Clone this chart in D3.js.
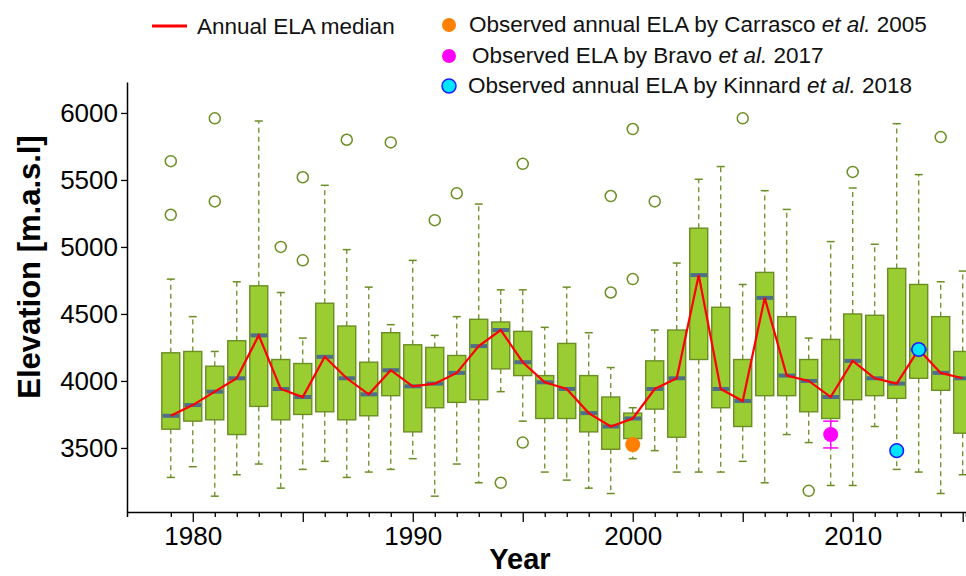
<!DOCTYPE html>
<html>
<head>
<meta charset="utf-8">
<script src="https://cdn.jsdelivr.net/npm/d3@7"></script>
<style>
  html, body { margin: 0; padding: 0; background: #fff; overflow: hidden; }
  svg { display: block; font-family: "Liberation Sans", Arial, Helvetica, sans-serif; }
</style>
</head>
<body>
<svg id="chart" width="966" height="576"></svg>
<script>
// Simulated annual ELA distribution per year (box plot statistics, m a.s.l.)
const years = [1979, 1980, 1981, 1982, 1983, 1984, 1985, 1986, 1987, 1988, 1989, 1990,
  1991, 1992, 1993, 1994, 1995, 1996, 1997, 1998, 1999, 2000, 2001, 2002, 2003, 2004,
  2005, 2006, 2007, 2008, 2009, 2010, 2011, 2012, 2013, 2014, 2015];
const whiskerLow = [3280, 3360, 3140, 3300, 3380, 3200, 3340, 3400, 3280, 3320, 3340, 3420,
  3140, 3380, 3240, 3920, 3700, 3320, 3260, 3200, 3160, 3420, 3480, 3320, 3320, 3320,
  3400, 3240, 3600, 3540, 3220, 3220, 3660, 3340, 3320, 3160, 3300];
const q1 = [3640, 3700, 3710, 3600, 3810, 3710, 3750, 3770, 3710, 3740, 3890, 3620,
  3800, 3840, 3860, 4090, 4040, 3720, 3720, 3620, 3490, 3570, 3790, 3580, 4160, 3800,
  3660, 3890, 3890, 3770, 3720, 3860, 3890, 3870, 4020, 3930, 3610];
const median = [3740, 3820, 3920, 4020, 4340, 3940, 3880, 4180, 4020, 3900, 4080, 3960,
  3980, 4060, 4260, 4380, 4140, 3990, 3940, 3760, 3660, 3720, 3940, 4020, 4790, 3940,
  3850, 4620, 4040, 4000, 3880, 4150, 4020, 3980, 4235, 4060, 4020];
const q3 = [4210, 4220, 4110, 4300, 4710, 4160, 4130, 4580, 4410, 4140, 4360, 4270,
  4250, 4190, 4460, 4440, 4370, 4040, 4280, 4040, 3880, 3760, 4150, 4380, 5140, 4550,
  4160, 4810, 4480, 4160, 4310, 4500, 4490, 4840, 4720, 4480, 4220];
const whiskerHigh = [4760, 4480, 4220, 4740, 5940, 4660, 4320, 5460, 4980, 4700, 4420, 4900,
  4340, 4480, 5320, 4680, 4680, 4400, 4700, 4360, 4100, 3800, 4380, 4880, 5505, 5600,
  4720, 5420, 5280, 4320, 5040, 5440, 5020, 5920, 5540, 4740, 4820];
// Outliers as [year, elevation]
const outliers = [
  [1979, 5640], [1979, 5240], [1981, 5960], [1981, 5340], [1984, 5000],
  [1985, 5520], [1985, 4900], [1987, 5800], [1989, 5780], [1991, 5200],
  [1992, 5400], [1994, 3240], [1995, 5620], [1995, 3540], [1999, 5380],
  [1999, 4660], [2000, 5880], [2000, 4760], [2001, 5340], [2005, 5960],
  [2008, 3180], [2010, 5560], [2014, 5820]
];
// Observations
const carrasco = [[2000, 3525]];
const bravo = [[2009, 3600, 100]];          // year, ELA, uncertainty
const kinnard = [[2012, 3480], [2013, 4235]];

const yTicks = [3500, 4000, 4500, 5000, 5500, 6000];
const xLabelYears = [1980, 1990, 2000, 2010];

const svg = d3.select("#chart");

const x = d3.scaleLinear().domain([1977.01, 2015.15]).range([127, 966]);
const y = d3.scaleLinear().domain([3022, 6231]).range([512, 82]);

const boxFill = "#9acd32", boxStroke = "#6b8e23", medianCol = "#4e6f8a";
const boxHalf = 9, capHalf = 4;

const data = years.map((yr, i) => ({
  year: yr, lo: whiskerLow[i], q1: q1[i], med: median[i], q3: q3[i], hi: whiskerHigh[i]
}));

const g = svg.append("g");

// whiskers (dashed) and caps
const wh = g.append("g");
data.forEach(d => {
  wh.append("line").attr("x1", x(d.year)).attr("x2", x(d.year))
    .attr("y1", y(d.q3)).attr("y2", y(d.hi))
    .attr("stroke", boxStroke).attr("stroke-width", 1.3).attr("stroke-dasharray", "5,4");
  wh.append("line").attr("x1", x(d.year)).attr("x2", x(d.year))
    .attr("y1", y(d.q1)).attr("y2", y(d.lo))
    .attr("stroke", boxStroke).attr("stroke-width", 1.3).attr("stroke-dasharray", "5,4");
  [d.hi, d.lo].forEach(v => {
    wh.append("line").attr("x1", x(d.year) - capHalf).attr("x2", x(d.year) + capHalf)
      .attr("y1", y(v)).attr("y2", y(v))
      .attr("stroke", boxStroke).attr("stroke-width", 1.5);
  });
});

// boxes
g.append("g").selectAll("rect").data(data).join("rect")
  .attr("x", d => x(d.year) - boxHalf)
  .attr("width", boxHalf * 2)
  .attr("y", d => y(d.q3))
  .attr("height", d => y(d.q1) - y(d.q3))
  .attr("fill", boxFill)
  .attr("stroke", boxStroke)
  .attr("stroke-width", 1.4);

// median bars
g.append("g").selectAll("rect").data(data).join("rect")
  .attr("x", d => x(d.year) - boxHalf + 0.7)
  .attr("width", boxHalf * 2 - 1.4)
  .attr("y", d => y(d.med) - 2)
  .attr("height", 4)
  .attr("fill", medianCol);

// outliers
g.append("g").selectAll("circle").data(outliers).join("circle")
  .attr("cx", d => x(d[0])).attr("cy", d => y(d[1])).attr("r", 5.5)
  .attr("fill", "none").attr("stroke", boxStroke).attr("stroke-width", 1.5);

// median line
g.append("path").datum(data)
  .attr("d", d3.line().x(d => x(d.year)).y(d => y(d.med)))
  .attr("fill", "none").attr("stroke", "#ff0000").attr("stroke-width", 2.2);

// observations
g.append("g").selectAll("circle").data(carrasco).join("circle")
  .attr("cx", d => x(d[0])).attr("cy", d => y(d[1])).attr("r", 7.5)
  .attr("fill", "#ff7f00");

const bg = g.append("g");
bravo.forEach(d => {
  const cx = x(d[0]);
  bg.append("line").attr("x1", cx).attr("x2", cx)
    .attr("y1", y(d[1] + d[2])).attr("y2", y(d[1] - d[2]))
    .attr("stroke", "#ff00ff").attr("stroke-width", 1.5);
  [d[1] + d[2], d[1] - d[2]].forEach(v => {
    bg.append("line").attr("x1", cx - 7.5).attr("x2", cx + 7.5)
      .attr("y1", y(v)).attr("y2", y(v))
      .attr("stroke", "#ff00ff").attr("stroke-width", 1.5);
  });
  bg.append("circle").attr("cx", cx).attr("cy", y(d[1])).attr("r", 7.5).attr("fill", "#ff00ff");
});

g.append("g").selectAll("circle").data(kinnard).join("circle")
  .attr("cx", d => x(d[0])).attr("cy", d => y(d[1])).attr("r", 6.8)
  .attr("fill", "#00e5ff").attr("stroke", "#1a1aff").attr("stroke-width", 1.5);

// axes
const yAxis = svg.append("g").attr("transform", "translate(127,0)")
  .call(d3.axisLeft(y).tickValues(yTicks).tickFormat(d3.format("d"))
    .tickSize(6).tickSizeOuter(0).tickPadding(3));
yAxis.select(".domain").attr("stroke", "#000").attr("stroke-width", 1.5);
yAxis.selectAll(".tick line").attr("stroke", "#000").attr("stroke-width", 1.3);
yAxis.selectAll("text").attr("font-size", 26).attr("fill", "#000")
  .attr("font-family", "Liberation Sans, Arial, sans-serif");

const xAxis = svg.append("g").attr("transform", "translate(0,512)")
  .call(d3.axisBottom(x).tickValues(years).tickSizeOuter(0).tickSize(5)
    .tickFormat(v => xLabelYears.includes(v) ? String(v) : ""));
xAxis.select(".domain").attr("stroke", "#000").attr("stroke-width", 1.5);
xAxis.selectAll(".tick line").attr("stroke", "#000").attr("stroke-width", 1.3)
  .attr("y2", v => v % 5 === 0 ? 10 : 5);
xAxis.selectAll("text").attr("font-size", 26).attr("fill", "#000").attr("y", 15)
  .attr("font-family", "Liberation Sans, Arial, sans-serif");

// axis titles
svg.append("text").attr("transform", "translate(40,267) rotate(-90)")
  .attr("text-anchor", "middle").attr("font-size", 31).attr("font-weight", "bold")
  .text("Elevation [m.a.s.l]");
svg.append("text").attr("x", 520).attr("y", 569)
  .attr("text-anchor", "middle").attr("font-size", 29).attr("font-weight", "bold")
  .text("Year");

// legend
const leg = svg.append("g").attr("font-size", 22.5).attr("fill", "#111");
leg.append("line").attr("x1", 152).attr("x2", 187).attr("y1", 26).attr("y2", 26)
  .attr("stroke", "#ff0000").attr("stroke-width", 3);
leg.append("text").attr("x", 197).attr("y", 34).text("Annual ELA median");

const legItems = [
  { cy: 25, fill: "#ff7f00", stroke: "none", tx: 469, ty: 32, pre: "Observed annual ELA by Carrasco ", post: " 2005" },
  { cy: 56, fill: "#ff00ff", stroke: "none", tx: 472, ty: 63, pre: "Observed ELA by Bravo ", post: " 2017" },
  { cy: 86, fill: "#00e5ff", stroke: "#1a1aff", tx: 468, ty: 93, pre: "Observed annual ELA by Kinnard ", post: " 2018" }
];
legItems.forEach(it => {
  leg.append("circle").attr("cx", 449).attr("cy", it.cy).attr("r", 7)
    .attr("fill", it.fill).attr("stroke", it.stroke).attr("stroke-width", 1.5);
  const t = leg.append("text").attr("x", it.tx).attr("y", it.ty);
  t.append("tspan").text(it.pre);
  t.append("tspan").attr("font-style", "italic").text("et al.");
  t.append("tspan").text(it.post);
});
</script>
</body>
</html>
